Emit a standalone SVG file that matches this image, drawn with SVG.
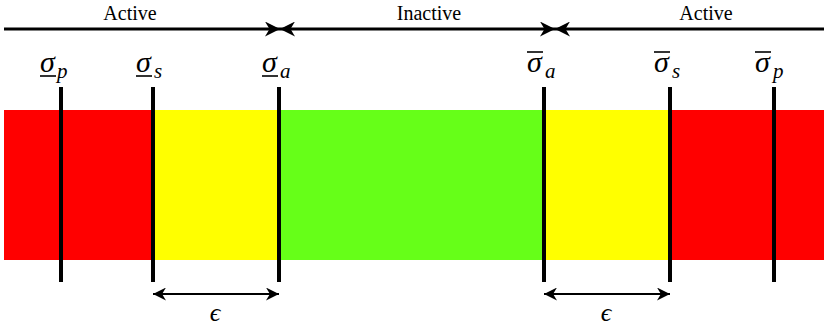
<svg xmlns="http://www.w3.org/2000/svg" width="824" height="329" viewBox="0 0 824 329">
<style>
text{fill:#000}
.lbl{font-size:20px}
.sig{font-style:italic;font-size:30px}
.sub{font-style:italic;font-size:21px}
.bar{stroke:#000;stroke-width:1.6}
.tick{stroke:#000;stroke-width:4}
.arr{stroke:#000;stroke-width:3;fill:none}
.arr2{stroke:#000;stroke-width:2;fill:none}
</style>
<defs>
<marker id="ah" viewBox="0 0 10 10" refX="10" refY="5" markerWidth="5" markerHeight="5" orient="auto-start-reverse" markerUnits="strokeWidth">
<path d="M0,0 L10,5 L0,10 L3,5 Z" fill="#000"/>
</marker>
<marker id="ah2" viewBox="0 0 10 10" refX="10" refY="5" markerWidth="6.5" markerHeight="6.5" orient="auto-start-reverse" markerUnits="strokeWidth">
<path d="M0,0 L10,5 L0,10 L3,5 Z" fill="#000"/>
</marker>
</defs>
<g id="bands">
<rect x="4" y="110" width="148" height="150" fill="#ff0000"/>
<rect x="152" y="110" width="127" height="150" fill="#ffff00"/>
<rect x="279" y="110" width="264" height="150" fill="#66ff18"/>
<rect x="543" y="110" width="126" height="150" fill="#ffff00"/>
<rect x="669" y="110" width="155" height="150" fill="#ff0000"/>
</g>
<g id="connectors">
<line class="arr" x1="4" y1="29" x2="280" y2="29" marker-end="url(#ah)"/>
<line class="arr" x1="280" y1="29" x2="555" y2="29" marker-start="url(#ah)" marker-end="url(#ah)"/>
<line class="arr" x1="824" y1="29" x2="555" y2="29" marker-end="url(#ah)"/>
<line class="arr2" x1="153" y1="294" x2="279" y2="294" marker-start="url(#ah2)" marker-end="url(#ah2)"/>
<line class="arr2" x1="544" y1="294" x2="670" y2="294" marker-start="url(#ah2)" marker-end="url(#ah2)"/>
</g>
<g id="ticks">
<line class="tick" x1="61" y1="87" x2="61" y2="282"/>
<line class="tick" x1="153" y1="87" x2="153" y2="282"/>
<line class="tick" x1="279" y1="87" x2="279" y2="282"/>
<line class="tick" x1="544" y1="87" x2="544" y2="282"/>
<line class="tick" x1="670" y1="87" x2="670" y2="282"/>
<line class="tick" x1="774" y1="87" x2="774" y2="282"/>
</g>
<g font-family="Liberation Serif, serif">
<g id="region-labels">
<text class="lbl" x="130" y="20" text-anchor="middle">Active</text>
<text class="lbl" x="429" y="20" text-anchor="middle">Inactive</text>
<text class="lbl" x="706" y="20" text-anchor="middle">Active</text>
</g>
<g id="sigma-p-lower">
<text class="sig" x="40" y="72">σ</text><line class="bar" x1="40" y1="76" x2="56" y2="76"/><text class="sub" x="57" y="78">p</text>
</g>
<g id="sigma-s-lower">
<text class="sig" x="136" y="72">σ</text><line class="bar" x1="136" y1="76" x2="152" y2="76"/><text class="sub" x="154" y="78">s</text>
</g>
<g id="sigma-a-lower">
<text class="sig" x="262" y="72">σ</text><line class="bar" x1="262" y1="76" x2="278" y2="76"/><text class="sub" x="280" y="78">a</text>
</g>
<g id="sigma-a-upper">
<text class="sig" x="527" y="72">σ</text><line class="bar" x1="527" y1="52" x2="543" y2="52"/><text class="sub" x="545" y="78">a</text>
</g>
<g id="sigma-s-upper">
<text class="sig" x="654" y="72">σ</text><line class="bar" x1="654" y1="52" x2="670" y2="52"/><text class="sub" x="672" y="78">s</text>
</g>
<g id="sigma-p-upper">
<text class="sig" x="755" y="72">σ</text><line class="bar" x1="755" y1="52" x2="771" y2="52"/><text class="sub" x="773" y="78">p</text>
</g>
<g id="eps-labels">
<text class="sub" x="215" y="321" text-anchor="middle" style="font-size:26px">ϵ</text>
<text class="sub" x="606" y="321" text-anchor="middle" style="font-size:26px">ϵ</text>
</g>
</g>
</svg>
